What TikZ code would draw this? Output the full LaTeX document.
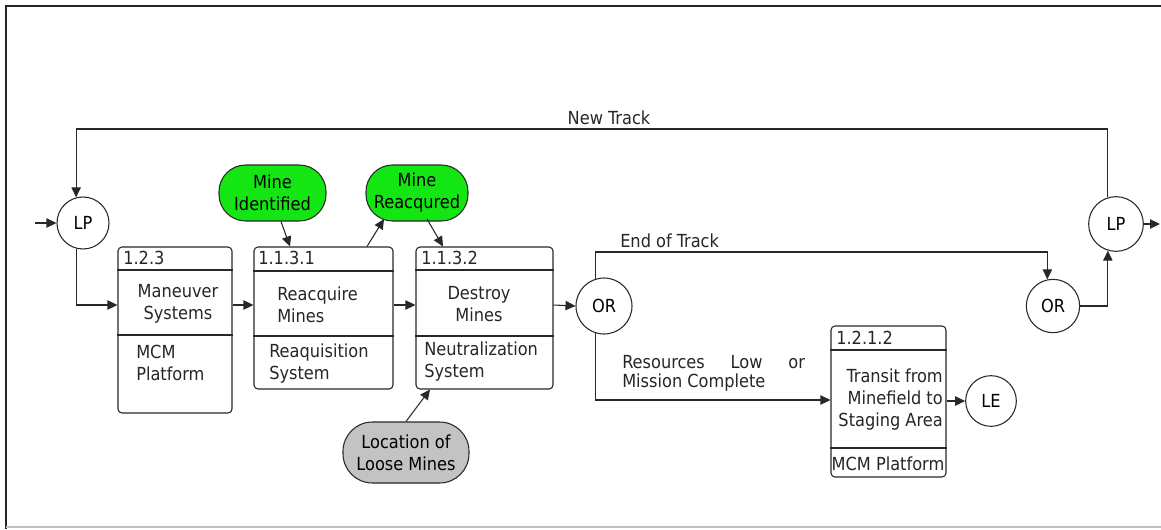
\documentclass[tikz,border=0pt]{standalone}
\usepackage{fontspec}
\setmainfont{DejaVu Sans Condensed}
\usetikzlibrary{arrows.meta,calc}
\definecolor{termgreen}{RGB}{20,230,20}
\definecolor{termgray}{RGB}{195,195,195}
\definecolor{lineC}{RGB}{40,40,40}
\tikzset{
  every node/.style={font=\fontsize{13.5}{16.5}\selectfont},
  pbox/.style={draw=lineC,line width=0.8pt,rounded corners=3pt,rectangle,inner sep=0pt},
  circ/.style={draw=lineC,line width=0.8pt,circle,inner sep=0pt,minimum size=40pt},
  term/.style={draw=lineC,line width=0.8pt,rectangle,rounded corners=20pt,inner sep=0pt,align=center,minimum height=42pt},
  txt/.style={inner sep=0pt,text=black!85},
  arr/.style={draw=lineC,line width=0.8pt,-{Triangle[length=7.5pt,width=7pt]}},
  ln/.style={draw=lineC,line width=0.8pt},
}
\begin{document}
\begin{tikzpicture}[x=0.75pt,y=-0.75pt]
\useasboundingbox (0,0) rectangle (1161,529);
% frame
\draw[line width=1.2pt,black!85] (1161,6) -- (6,6) -- (6,529);
\draw[line width=1pt,black!25] (6,527) -- (1161,527);

% circles
\node[circ,minimum size=39pt] (LP1) at (83,223) {LP};
\node[circ,minimum size=42pt] (OR1) at (604,306) {OR};
\node[circ,minimum size=40pt] (OR2) at (1053,306) {OR};
\node[circ,minimum size=41pt] (LP2) at (1116,224) {LP};
\node[circ,minimum size=38pt] (LE) at (991,401) {LE};

% process boxes
\node[pbox,minimum width=85.5pt,minimum height=124.5pt] (B123) at (175,330) {};
\node[pbox,minimum width=104.25pt,minimum height=106.5pt] (B1131) at (323.5,318) {};
\node[pbox,minimum width=102.75pt,minimum height=106.5pt] (B1132) at (484.5,318) {};
\node[pbox,minimum width=86.25pt,minimum height=113.25pt] (B1212) at (888.5,401.5) {};

\draw[ln] (B123.west |- 0,270) -- (B123.east |- 0,270);
\draw[ln] (B123.west |- 0,335) -- (B123.east |- 0,335);
\draw[ln] (B1131.west |- 0,271) -- (B1131.east |- 0,271);
\draw[ln] (B1131.west |- 0,336) -- (B1131.east |- 0,336);
\draw[ln] (B1132.west |- 0,270) -- (B1132.east |- 0,270);
\draw[ln] (B1132.west |- 0,336) -- (B1132.east |- 0,336);
\draw[ln] (B1212.west |- 0,350) -- (B1212.east |- 0,350);
\draw[ln] (B1212.west |- 0,448) -- (B1212.east |- 0,448);

% box texts
\node[txt,anchor=west] (h123) at (123,258) {1.2.3};
\node[txt,align=center] (t123) at (178,304) {Maneuver\\ Systems};
\node[txt,align=left,anchor=west] (r123) at (136,363) {MCM\\Platform};

\node[txt,anchor=west] (h1131) at (258,258) {1.1.3.1};
\node[txt,align=left,anchor=west] (t1131) at (277,305) {Reacquire\\Mines};
\node[txt,align=left,anchor=west] (r1131) at (269,364) {Reaquisition\\System};

\node[txt,anchor=west] (h1132) at (421,258) {1.1.3.2};
\node[txt,align=center] (t1132) at (479,304) {Destroy\\ Mines};
\node[txt,align=left,anchor=west] (r1132) at (424,362) {Neutralization\\System};

\node[txt,anchor=west] (h1212) at (836,338) {1.2.1.2};
\node[txt,align=right,anchor=east] (t1212) at (943,400) {Transit from\\Minefield to\\Staging Area};
\node[txt] (r1212) at (888,464) {MCM Platform};

% terminals
\node[term,fill=termgreen,minimum width=80.25pt] (MI) at (272.5,193) {Mine\\Identified};
\node[term,fill=termgreen,minimum width=76.5pt] (MR) at (417,193) {Mine\\Reacqured};
\node[term,fill=termgray,minimum width=94.5pt,minimum height=45.75pt,rounded corners=22pt] (LLM) at (406,452.5) {Location of\\Loose Mines};

% labels
\node[txt] (lNT) at (609,118) {New Track};
\node[txt,anchor=west] (lET) at (620,241) {End of Track};
\node[txt,anchor=west] (lR1) at (622,362) {\makebox[137pt][s]{Resources Low or}};
\node[txt,anchor=west] (lR2) at (622,383) {Mission Complete};

% connectors
\coordinate (in0) at (35,223);
\coordinate (out0) at (1160,224);
\draw[arr] (in0) -- (LP1.west);
\draw[arr] (LP1.255) |- (B123.west |- 0,305);
\draw[arr] (B123.east |- 0,305) -- (B1131.west |- 0,305);
\draw[arr] (B1131.east |- 0,305) -- (B1132.west |- 0,305);
\draw[arr] (B1132.east |- 0,305) -- (OR1.west);
\draw[arr] (LP2.107) |- (LP1.105 |- 0,129) -- (LP1.105);
\draw[arr] (OR1.107) |- (OR2.102 |- 0,252) -- (OR2.102);
\draw[arr] (OR1.253) |- (B1212.west |- 0,400);
\draw[arr] (B1212.east |- LE.west) -- (LE.west);
\draw[arr] (OR2.east) -| (LP2.253);
\draw[arr] (LP2.east) -- (out0);

\draw[arr] (281,0 |- MI.south) -- (290,0 |- B1131.north);
\draw[arr] (367,0 |- B1131.north) -- (384,219);
\draw[arr] (427,219) -- (443,0 |- B1132.north);
\draw[arr] (406,0 |- LLM.north) -- (430,0 |- B1132.south);
\end{tikzpicture}
\end{document}
